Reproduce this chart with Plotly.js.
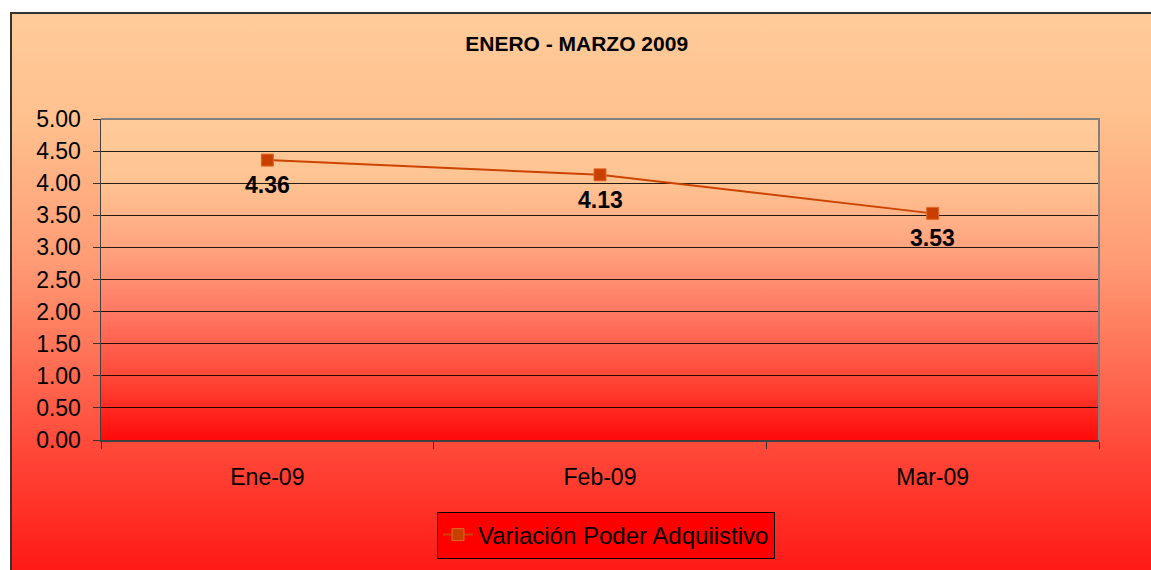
<!DOCTYPE html>
<html>
<head>
<meta charset="utf-8">
<script src="https://cdn.plot.ly/plotly-3.0.1.min.js"></script>
<style>
  html, body { margin: 0; padding: 0; background: #ffffff; overflow: hidden; }
  #frame {
    position: absolute; left: 10px; top: 12px; width: 1200px; height: 600px;
    border-left: 2px solid #333; border-top: 2px solid #333; box-sizing: border-box;
    background: linear-gradient(to bottom, #FFCC99 0%, #FFC08E 18%, #FF9A74 42%, #FF4A3A 72%, #FF0A0A 100%);
  }
  #chart { position: absolute; left: 0; top: 0; width: 1151px; height: 570px; }
</style>
</head>
<body>
<div id="frame"></div>
<div id="chart"></div>
<script>
const categories = ["Ene-09", "Feb-09", "Mar-09"];
const values = [4.36, 4.13, 3.53];
const seriesName = "Variación Poder Adquiistivo";
const chartTitle = "ENERO - MARZO 2009";
const yTickVals = [0, 0.5, 1, 1.5, 2, 2.5, 3, 3.5, 4, 4.5, 5];

const FONT = "Liberation Sans, Arial, sans-serif";

const gradSvg = '<svg xmlns="http://www.w3.org/2000/svg" width="100" height="100" preserveAspectRatio="none">' +
  '<defs><linearGradient id="g" x1="0" y1="0" x2="0" y2="1">' +
  '<stop offset="0" stop-color="#FFCC99"/>' +
  '<stop offset="0.2" stop-color="#FFC392"/>' +
  '<stop offset="0.42" stop-color="#FFA07C"/>' +
  '<stop offset="0.62" stop-color="#FF7460"/>' +
  '<stop offset="0.82" stop-color="#FF4434"/>' +
  '<stop offset="1" stop-color="#FF0A0A"/>' +
  '</linearGradient></defs><rect width="100" height="100" fill="url(#g)"/></svg>';
const gradUri = "data:image/svg+xml;charset=utf-8," + encodeURIComponent(gradSvg);

const trace = {
  x: categories,
  y: values,
  type: "scatter",
  mode: "lines+markers",
  name: seriesName,
  line: { color: "#CC4400", width: 2 },
  marker: { symbol: "square", size: 12, color: "#C84000", line: { color: "#E0662A", width: 1 } },
  hoverinfo: "skip"
};

const annotations = categories.map((c, i) => ({
  x: c, y: values[i], xref: "x", yref: "y",
  text: "<b>" + values[i].toFixed(2) + "</b>",
  showarrow: false, yshift: -25,
  font: { family: FONT, size: 23, color: "#000000" }
}));

const layout = {
  width: 1151, height: 570,
  margin: { l: 101, r: 52, t: 119, b: 130, pad: 0 },
  paper_bgcolor: "rgba(0,0,0,0)",
  plot_bgcolor: "rgba(0,0,0,0)",
  font: { family: FONT, color: "#000000" },
  title: {
    text: "<b>" + chartTitle + "</b>",
    font: { family: FONT, size: 21, color: "#000000" },
    xref: "container", x: 0.501, xanchor: "center",
    yref: "container", y: 1 - 44 / 570, yanchor: "middle"
  },
  xaxis: {
    type: "category",
    range: [-0.5, 2.5],
    tickson: "boundaries",
    ticks: "outside", ticklen: 7, tickcolor: "#333333", tickwidth: 1,
    showgrid: false, zeroline: false,
    showline: true, linecolor: "#404040", linewidth: 2,
    tickfont: { family: FONT, size: 23, color: "#000000" },
    ticklabelstandoff: 15,
    fixedrange: true
  },
  yaxis: {
    range: [0, 5],
    tickvals: yTickVals,
    tickformat: ".2f",
    ticks: "outside", ticklen: 7, tickcolor: "#333333", tickwidth: 1,
    showgrid: true, gridcolor: "rgba(0,0,0,0.85)", gridwidth: 1,
    zeroline: false,
    showline: true, linecolor: "#404040", linewidth: 1.5,
    tickfont: { family: FONT, size: 23, color: "#000000" },
    ticklabelstandoff: 7,
    fixedrange: true
  },
  shapes: [
    { type: "path", xref: "paper", yref: "paper", path: "M0,1 L1,1 L1,0",
      line: { color: "#808080", width: 2 }, layer: "above" }
  ],
  images: [
    { source: gradUri, xref: "paper", yref: "paper", x: 0, y: 1, sizex: 1, sizey: 1,
      xanchor: "left", yanchor: "top", sizing: "stretch", layer: "below" }
  ],
  annotations: annotations,
  showlegend: true,
  legend: {
    orientation: "h",
    xref: "container", yref: "container",
    x: 606 / 1151, xanchor: "center",
    y: 1 - 535 / 570, yanchor: "middle",
    bgcolor: "#FF0000", bordercolor: "#000000", borderwidth: 1,
    font: { family: FONT, size: 24, color: "#000000" }
  }
};

Plotly.newPlot("chart", [trace], layout, { displayModeBar: false, staticPlot: true });
</script>
</body>
</html>
